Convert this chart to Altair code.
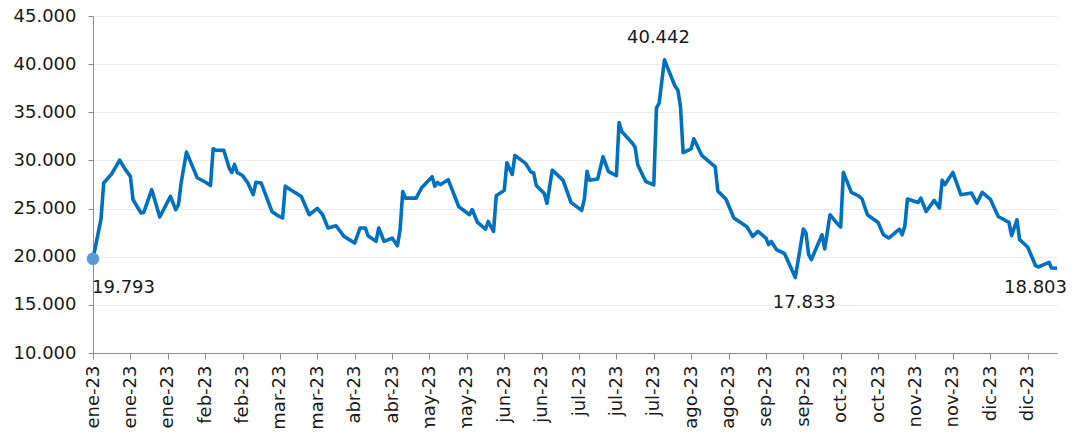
import altair as alt
import pandas as pd

# ---- data ----
dates = [
    "2023-01-02", "2023-01-05", "2023-01-06", "2023-01-09", "2023-01-12", "2023-01-14",
    "2023-01-16", "2023-01-17", "2023-01-20", "2023-01-21", "2023-01-24", "2023-01-27",
    "2023-01-31", "2023-02-02", "2023-02-03", "2023-02-04", "2023-02-06", "2023-02-09",
    "2023-02-10", "2023-02-13", "2023-02-15", "2023-02-16", "2023-02-17", "2023-02-20",
    "2023-02-22", "2023-02-23", "2023-02-24", "2023-02-25", "2023-02-27", "2023-03-01",
    "2023-03-03", "2023-03-04", "2023-03-06", "2023-03-10", "2023-03-12", "2023-03-14",
    "2023-03-15", "2023-03-17", "2023-03-21", "2023-03-24", "2023-03-27", "2023-03-29",
    "2023-03-31", "2023-04-03", "2023-04-06", "2023-04-10", "2023-04-12", "2023-04-14",
    "2023-04-15", "2023-04-18", "2023-04-19", "2023-04-21", "2023-04-24", "2023-04-26",
    "2023-04-27", "2023-04-28", "2023-04-29", "2023-05-03", "2023-05-05", "2023-05-09",
    "2023-05-10", "2023-05-11", "2023-05-12", "2023-05-15", "2023-05-19", "2023-05-23",
    "2023-05-24", "2023-05-26", "2023-05-29", "2023-05-30", "2023-06-01", "2023-06-02",
    "2023-06-05", "2023-06-06", "2023-06-08", "2023-06-09", "2023-06-13", "2023-06-15",
    "2023-06-16", "2023-06-17", "2023-06-20", "2023-06-21", "2023-06-23", "2023-06-27",
    "2023-06-30", "2023-07-04", "2023-07-05", "2023-07-06", "2023-07-07", "2023-07-10",
    "2023-07-12", "2023-07-14", "2023-07-17", "2023-07-18", "2023-07-19", "2023-07-23",
    "2023-07-24", "2023-07-25", "2023-07-26", "2023-07-28", "2023-07-31", "2023-08-01",
    "2023-08-02", "2023-08-04", "2023-08-08", "2023-08-09", "2023-08-10", "2023-08-11",
    "2023-08-14", "2023-08-15", "2023-08-18", "2023-08-23", "2023-08-24", "2023-08-27",
    "2023-08-30", "2023-09-04", "2023-09-06", "2023-09-08", "2023-09-11", "2023-09-12",
    "2023-09-13", "2023-09-15", "2023-09-18", "2023-09-22", "2023-09-25", "2023-09-26",
    "2023-09-27", "2023-09-28", "2023-10-02", "2023-10-03", "2023-10-05", "2023-10-07",
    "2023-10-09", "2023-10-10", "2023-10-13", "2023-10-16", "2023-10-17", "2023-10-19",
    "2023-10-23", "2023-10-25", "2023-10-27", "2023-10-31", "2023-11-01", "2023-11-02",
    "2023-11-03", "2023-11-07", "2023-11-08", "2023-11-10", "2023-11-13", "2023-11-15",
    "2023-11-16", "2023-11-17", "2023-11-20", "2023-11-23", "2023-11-27", "2023-11-29",
    "2023-12-01", "2023-12-04", "2023-12-07", "2023-12-11", "2023-12-12", "2023-12-14",
    "2023-12-15", "2023-12-18", "2023-12-21", "2023-12-22", "2023-12-26", "2023-12-27",
    "2023-12-29",
]
values = [
    19793, 23900, 27650, 28600, 30030, 29100,
    28340, 25920, 24540, 24600, 26960, 24120,
    26260, 24880, 25400, 27650, 30860, 28890,
    28200, 27760, 27400, 31220, 31070, 31040,
    29210, 28750, 29580, 28750, 28440, 27650,
    26440, 27720, 27650, 24700, 24300, 24020,
    27330, 26960, 26260, 24360, 25020, 24360,
    22980, 23220, 22110, 21420, 22980, 22980,
    22180, 21590, 22980, 21590, 21940, 21140,
    22800, 26780, 26090, 26090, 27130, 28310,
    27330, 27720, 27480, 28000, 25190, 24360,
    24900, 23560, 22870, 23660, 22620, 26330,
    26890, 29760, 28540, 30520, 29690, 28790,
    28720, 27400, 26570, 25530, 28990, 27950,
    25640, 24810, 25990, 28860, 27950, 28080,
    30380, 28860, 28410, 33940, 33000, 31790,
    31380, 29540, 28950, 27810, 27460, 35430,
    35950, 40442, 37680, 37330, 35600, 30800,
    31210, 32250, 30520, 29340, 26810, 26000,
    24020, 23080, 22110, 22630, 21940, 21250,
    21590, 20730, 20310, 17833, 22870, 22460,
    20210, 19690, 22280, 20800, 24360, 23660,
    23080, 28760, 26680, 26260, 25990, 24360,
    23560, 22280, 21940, 22870, 22280, 23150,
    25990, 25640, 26090, 24700, 25850, 25060,
    27950, 27480, 28760, 26440, 26610, 25570,
    26680, 25990, 24180, 23560, 22180, 23840,
    21770, 21010, 19070, 18930, 19410, 18830,
    18803,
]

tick_dates = [
    "2023-01-02", "2023-01-16", "2023-01-30", "2023-02-13", "2023-02-27", "2023-03-13",
    "2023-03-27", "2023-04-10", "2023-04-24", "2023-05-08", "2023-05-22", "2023-06-05",
    "2023-06-19", "2023-07-03", "2023-07-17", "2023-07-31", "2023-08-14", "2023-08-28",
    "2023-09-11", "2023-09-25", "2023-10-09", "2023-10-23", "2023-11-06", "2023-11-20",
    "2023-12-04", "2023-12-18",
]
month_abbr = ["ene", "feb", "mar", "abr", "may", "jun", "jul", "ago", "sep", "oct", "nov", "dic"]
y_ticks = [10000, 15000, 20000, 25000, 30000, 35000, 40000, 45000]

# annotated points
ann_dates = ["2023-01-02", "2023-08-04", "2023-09-22", "2023-12-29"]
ann_values = [19793, 40442, 17833, 18803]
ann_labels = ["19.793", "40.442", "17.833", "18.803"]

# ---- build ----
df = pd.DataFrame({"fecha": dates, "valor": values})
ann = pd.DataFrame({"fecha": ann_dates, "valor": ann_values, "txt": ann_labels})


def dt(s):
    y, m, d = (int(p) for p in s.split("-"))
    return alt.DateTime(year=y, month=m, date=d, utc=True)


FONT = "DejaVu Sans"
month_js = "[" + ",".join("'%s'" % m for m in month_abbr) + "]"

x_enc = alt.X(
    "fecha:T",
    scale=alt.Scale(type="utc", domain=[dt(dates[0]), dt(dates[-1])]),
    axis=alt.Axis(
        title=None,
        values=[dt(t) for t in tick_dates],
        tickCount=40,
        labelExpr=month_js + "[utcmonth(datum.value)] + '-' + utcFormat(datum.value, '%y')",
        labelAngle=270,
        labelAlign="right",
        labelBaseline="middle",
        labelFont=FONT,
        labelFontSize=18,
        labelColor="#1a1a1a",
        labelPadding=6,
        labelOverlap=False,
        labelBound=False,
        labelFlush=False,
        grid=False,
        domainColor="#8c8c8c",
        domainWidth=1,
        tickColor="#8c8c8c",
        tickSize=6,
    ),
)
y_enc = alt.Y(
    "valor:Q",
    scale=alt.Scale(domain=[10000, 45000], nice=False, zero=False),
    axis=alt.Axis(
        title=None,
        values=y_ticks,
        labelExpr="replace(format(datum.value, ',.0f'), ',', '.')",
        labelFont=FONT,
        labelFontSize=18,
        labelColor="#1a1a1a",
        labelPadding=12,
        grid=True,
        gridColor="#ebebeb",
        gridWidth=1,
        domainColor="#8c8c8c",
        tickColor="#8c8c8c",
        tickSize=5,
    ),
)

base = alt.Chart(df)
line = base.mark_line(color="#0070c0", strokeWidth=3.6, strokeJoin="round").encode(x=x_enc, y=y_enc)

first_pt = alt.Chart(ann.iloc[[0]]).mark_circle(size=160, color="#5b9bd5", opacity=1).encode(
    x="fecha:T", y="valor:Q"
)

txt_style = dict(font=FONT, fontSize=18, color="#1a1a1a", baseline="alphabetic")
t0 = alt.Chart(ann.iloc[[0]]).mark_text(align="left", dx=-1, dy=34, **txt_style).encode(
    x="fecha:T", y="valor:Q", text="txt:N")
t1 = alt.Chart(ann.iloc[[1]]).mark_text(align="center", dx=-6, dy=-17, **txt_style).encode(
    x="fecha:T", y="valor:Q", text="txt:N")
t2 = alt.Chart(ann.iloc[[2]]).mark_text(align="center", dx=9, dy=30, **txt_style).encode(
    x="fecha:T", y="valor:Q", text="txt:N")
t3 = alt.Chart(ann.iloc[[3]]).mark_text(align="right", dx=10, dy=25, **txt_style).encode(
    x="fecha:T", y="valor:Q", text="txt:N")

chart = (
    alt.layer(line, first_pt, t0, t1, t2, t3)
    .properties(
        width=964,
        height=337,
        autosize=alt.AutoSizeParams(type="none"),
        padding={"left": 85, "top": 8, "right": 11, "bottom": 75},
        background="white",
    )
    .configure_view(stroke=None)
)

chart.save("out.html", embed_options={"renderer": "svg", "actions": False})
